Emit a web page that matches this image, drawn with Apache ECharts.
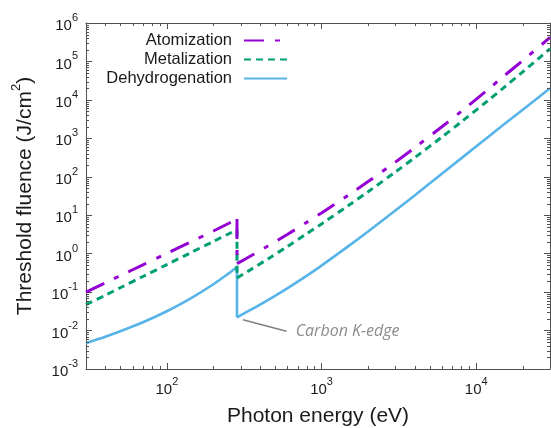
<!DOCTYPE html>
<html><head><meta charset="utf-8">
<script src="https://cdn.jsdelivr.net/npm/echarts@6/dist/echarts.min.js"></script>
<style>html,body{margin:0;padding:0;background:#fff}#c{width:551px;height:428px}</style>
</head><body><div id="c"></div>
<script>
// ---- data ----
const energyBelowEdge = [30, 40, 50, 70, 100, 140, 200, 250, 284];
const energyAboveEdge = [284, 350, 450, 600, 800, 1000, 1500, 2000, 3000, 4000, 6000, 8000, 12000, 15000, 20000, 30000];
const atomizationBelow = [0.1, 0.174, 0.268, 0.513, 1.02, 1.95, 3.89, 6.1, 8.0];
const atomizationAbove = [0.55, 0.88, 1.58, 3.15, 6.5, 11.5, 33.8, 75, 241, 570, 2000, 5000, 19100, 40800, 105000, 420000];
const metalizationBelow = [0.047, 0.083, 0.13, 0.255, 0.52, 1.02, 2.08, 3.25, 4.2];
const metalizationAbove = [0.234, 0.39, 0.73, 1.53, 3.27, 5.95, 18.2, 40.9, 133, 314, 1080, 2670, 9840, 20500, 53600, 214000];
const dehydrogenationBelow = [0.0047, 0.0069, 0.0096, 0.0164, 0.0318, 0.0656, 0.160, 0.303, 0.45];
const dehydrogenationAbove = [0.022, 0.0348, 0.0621, 0.1256, 0.2655, 0.49, 1.59, 3.77, 13.2, 32.7, 120, 301, 1104, 2254, 5572, 20000];
const seriesNames = ['Atomization', 'Metalization', 'Dehydrogenation'];
const xRange = [30, 30000];
const yRange = [0.001, 1000000];
const xTitle = 'Photon energy (eV)';
const yTitleMain = 'Threshold fluence (J/cm';
const yTitleSup = '2';
const annotationText = 'Carbon K-edge';
const arrowFrom = [594, 0.0096];
const arrowTo = [310, 0.019];
const annotationAnchor = [680, 0.0096];

// ---- helpers ----
const frameColor = '#505050';
const labelColor = '#1a1a1a';
const font = 'Liberation Sans, Arial, sans-serif';
const colors = ['#9400D3', '#009E73', '#56B4E9'];
const lineStyles = [
  { width: 3, type: [20, 11, 5, 11] },
  { width: 3, type: [7, 5] },
  { width: 2.6, type: 'solid' }
];
function pairs(xs, ys) { return xs.map((x, i) => [x, ys[i]]); }
function powLabel(v) {
  const e = Math.round(Math.log10(v));
  if (Math.abs(v / Math.pow(10, e) - 1) > 1e-6) return '';
  return '{b|10}{s|' + e + '}';
}
function minorValues(lo, hi) {
  const out = [];
  for (let e = Math.floor(Math.log10(lo)); e <= Math.ceil(Math.log10(hi)); e++) {
    for (let k = 2; k <= 9; k++) {
      const v = k * Math.pow(10, e);
      if (v > lo * 1.0001 && v < hi * 0.9999) out.push(v);
    }
  }
  return out;
}
const labelRich = {
  b: { fontSize: 15, fontFamily: font, color: labelColor, padding: [6, 0, 0, 0] },
  s: { fontSize: 11, fontFamily: font, color: labelColor, verticalAlign: 'top' }
};
const minorLen = 3;

function curveSeries(idx, below, above) {
  const name = seriesNames[idx];
  const base = {
    name: name, type: 'line', symbol: 'none', showSymbol: false,
    itemStyle: { color: colors[idx] },
    lineStyle: Object.assign({ color: colors[idx] }, lineStyles[idx]),
    z: 5 - idx
  };
  return [
    Object.assign({}, base, { data: pairs(energyBelowEdge, below), smooth: 0.3 }),
    Object.assign({}, base, { data: [[energyBelowEdge[energyBelowEdge.length - 1], below[below.length - 1]], [energyAboveEdge[0], above[0]]] }),
    Object.assign({}, base, { data: pairs(energyAboveEdge, above), smooth: 0.3 })
  ];
}

const curves = [].concat(
  curveSeries(0, atomizationBelow, atomizationAbove),
  curveSeries(1, metalizationBelow, metalizationAbove),
  curveSeries(2, dehydrogenationBelow, dehydrogenationAbove)
);
// annotation attached to the last dehydrogenation segment
Object.assign(curves[curves.length - 1], {
  markLine: {
    silent: true, symbol: ['none', 'arrow'], symbolSize: [0, 9], precision: 4,
    lineStyle: { color: '#808080', width: 1.5, type: 'solid' },
    label: { show: false },
    data: [[{ coord: arrowFrom }, { coord: arrowTo }]]
  },
  markPoint: {
    silent: true, symbol: 'circle', symbolSize: 0,
    label: { show: true, position: 'right', distance: 0, formatter: annotationText,
      fontSize: 16, fontStyle: 'italic', fontFamily: 'Open Sans, sans-serif', color: '#8c8c8c' },
    data: [{ coord: annotationAnchor }]
  }
});

const chart = echarts.init(document.getElementById('c'), null, { renderer: 'canvas' });
chart.setOption({
  animation: false,
  backgroundColor: '#ffffff',
  grid: { left: 86, right: 1, top: 23, bottom: 59, containLabel: false, outerBoundsMode: 'none' },
  legend: {
    data: seriesNames,
    orient: 'vertical',
    align: 'right',
    right: 263,
    top: 32,
    padding: 0,
    itemWidth: 43,
    itemHeight: 14,
    itemGap: 2,
    itemStyle: { opacity: 0, borderWidth: 0 },
    textStyle: { fontSize: 16.5, fontFamily: font, color: labelColor, padding: [0, 7, 0, 0] }
  },
  xAxis: [{
    type: 'log', logBase: 10, min: xRange[0], max: xRange[1], position: 'bottom',
    name: xTitle, nameLocation: 'middle', nameGap: 37,
    nameTextStyle: { fontSize: 21, fontFamily: font, color: labelColor },
    axisLine: { onZero: false, lineStyle: { color: frameColor, width: 1 } },
    axisTick: { inside: true, length: 6, lineStyle: { color: frameColor } },
    axisLabel: { formatter: powLabel, margin: 7, rich: labelRich },
    splitLine: { show: false }, minorTick: { show: false }
  }, {
    type: 'log', logBase: 10, min: xRange[0], max: xRange[1], position: 'top',
    axisLine: { onZero: false, lineStyle: { color: frameColor, width: 1 } },
    axisTick: { inside: true, length: 6, lineStyle: { color: frameColor } },
    axisLabel: { show: false }, splitLine: { show: false }
  }],
  yAxis: [{
    type: 'log', logBase: 10, min: yRange[0], max: yRange[1], position: 'left',
    name: '{n|' + yTitleMain + '}{p|' + yTitleSup + '}{n|)}',
    nameLocation: 'middle', nameGap: 50,
    nameTextStyle: {
      rich: {
        n: { fontSize: 21, fontFamily: font, color: labelColor, padding: [5, 0, 0, 0] },
        p: { fontSize: 13, fontFamily: font, color: labelColor, verticalAlign: 'top' }
      }
    },
    axisLine: { onZero: false, lineStyle: { color: frameColor, width: 1 } },
    axisTick: { inside: true, length: 6, lineStyle: { color: frameColor } },
    axisLabel: { formatter: powLabel, margin: 8, rich: labelRich },
    splitLine: { show: false }
  }, {
    type: 'log', logBase: 10, min: yRange[0], max: yRange[1], position: 'right',
    axisLine: { onZero: false, lineStyle: { color: frameColor, width: 1 } },
    axisTick: { inside: true, length: 6, lineStyle: { color: frameColor } },
    axisLabel: { show: false }, splitLine: { show: false }
  }],
  series: curves.concat([{
    type: 'custom', silent: true, clip: false, z: 6,
    xAxisIndex: 0, yAxisIndex: 0,
    data: minorValues(xRange[0], xRange[1]).map(v => [v, 1]),
    renderItem: function (params, api) {
      const cs = params.coordSys;
      const x = Math.round(api.coord([api.value(0), 1])[0]) + 0.5;
      return { type: 'group', children: [
        { type: 'line', shape: { x1: x, y1: cs.y + cs.height, x2: x, y2: cs.y + cs.height - minorLen }, style: { stroke: frameColor, lineWidth: 1 } },
        { type: 'line', shape: { x1: x, y1: cs.y, x2: x, y2: cs.y + minorLen }, style: { stroke: frameColor, lineWidth: 1 } }
      ] };
    }
  }, {
    type: 'custom', silent: true, clip: false, z: 6,
    xAxisIndex: 0, yAxisIndex: 0,
    data: minorValues(yRange[0], yRange[1]).map(v => [100, v]),
    renderItem: function (params, api) {
      const cs = params.coordSys;
      const y = Math.round(api.coord([100, api.value(1)])[1]) + 0.5;
      return { type: 'group', children: [
        { type: 'line', shape: { x1: cs.x, y1: y, x2: cs.x + minorLen, y2: y }, style: { stroke: frameColor, lineWidth: 1 } },
        { type: 'line', shape: { x1: cs.x + cs.width, y1: y, x2: cs.x + cs.width - minorLen, y2: y }, style: { stroke: frameColor, lineWidth: 1 } }
      ] };
    }
  }])
});
</script>
</body></html>
